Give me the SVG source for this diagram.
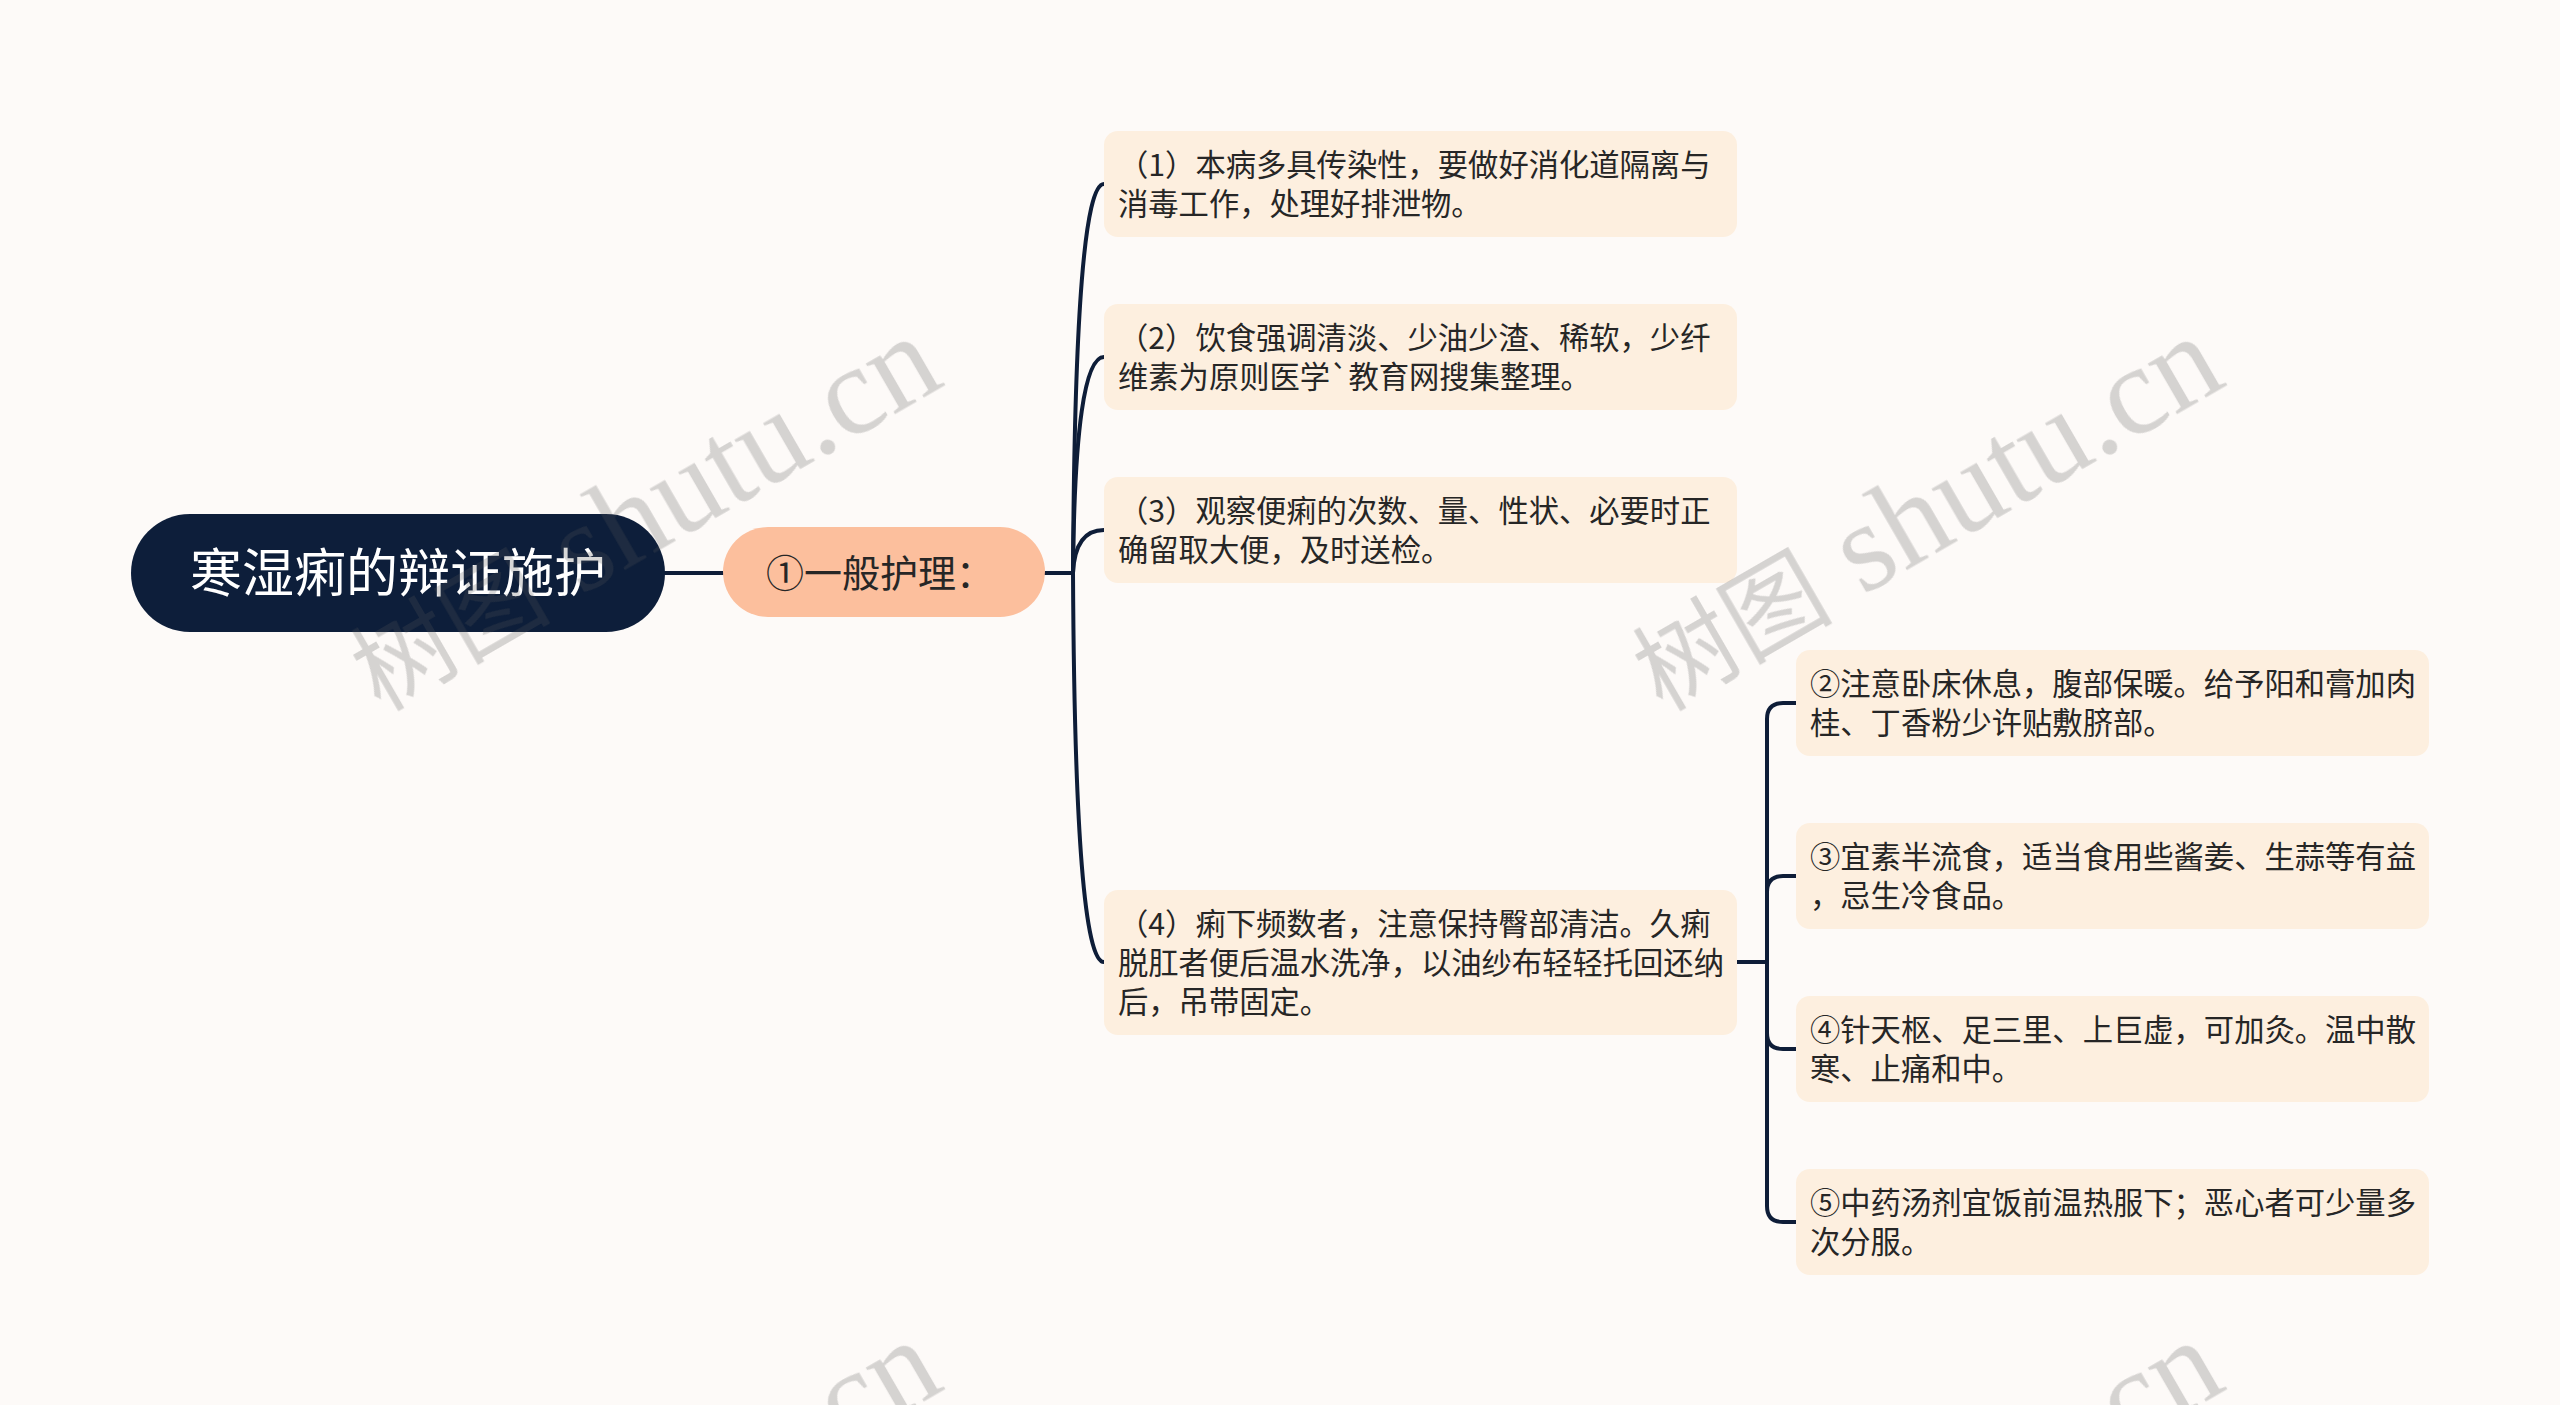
<svg xmlns="http://www.w3.org/2000/svg" width="2560" height="1405" viewBox="0 0 2560 1405">
<style>
.bg{fill:#fdfaf8}
.leaf{fill:#fdefdf}
.t{font-family:"Noto Sans CJK SC","Noto Sans",sans-serif;font-size:30.3px;fill:#262626}
.conn{fill:none;stroke:#0e1d38;stroke-width:4;stroke-linecap:round}
.wm{fill:#5a5a5a;opacity:0.24}
.wmc{font-family:"Noto Sans CJK SC",sans-serif;font-size:100px}
.wml{font-family:"Liberation Serif","DejaVu Serif",serif;font-size:126px}
</style>
<rect class="bg" x="0" y="0" width="2560" height="1405"/>
<g id="connectors">
<path class="conn" d="M665 573 H723"/>
<path class="conn" d="M1045 573 H1073"/>
<path class="conn" d="M1073 573 Q1075 184 1104 184"/>
<path class="conn" d="M1073 573 Q1075 357 1104 357"/>
<path class="conn" d="M1073 573 Q1075 530 1104 530"/>
<path class="conn" d="M1073 573 Q1075 962 1104 962"/>
<path class="conn" d="M1737 962 H1767"/>
<path class="conn" d="M1767 962 V719 Q1767 703 1783 703 H1796"/>
<path class="conn" d="M1767 962 V892 Q1767 876 1783 876 H1796"/>
<path class="conn" d="M1767 962 V1033 Q1767 1049 1783 1049 H1796"/>
<path class="conn" d="M1767 962 V1206 Q1767 1222 1783 1222 H1796"/>
</g>
<g id="root">
<rect x="131" y="514" width="534" height="118" rx="59" fill="#0d1e3a"/>
<text x="398" y="592" text-anchor="middle" font-family="Noto Sans CJK SC, sans-serif" font-size="52" fill="#ffffff">寒湿痢的辩证施护</text>
</g>
<g id="n1">
<rect x="723" y="527" width="322" height="90" rx="45" fill="#fcbf9d"/>
<text x="766" y="587" font-family="Noto Sans CJK SC, sans-serif" font-size="38" fill="#262626">①一般护理：</text>
</g>
<g id="c1">
<rect class="leaf" x="1104" y="131" width="633" height="106" rx="14"/>
<text class="t" x="1118" y="176">（1）本病多具传染性，要做好消化道隔离与</text>
<text class="t" x="1118" y="215">消毒工作，处理好排泄物。</text>
</g>
<g id="c2">
<rect class="leaf" x="1104" y="304" width="633" height="106" rx="14"/>
<text class="t" x="1118" y="349">（2）饮食强调清淡、少油少渣、稀软，少纤</text>
<text class="t" x="1118" y="388">维素为原则医学`教育网搜集整理。</text>
</g>
<g id="c3">
<rect class="leaf" x="1104" y="477" width="633" height="106" rx="14"/>
<text class="t" x="1118" y="522">（3）观察便痢的次数、量、性状、必要时正</text>
<text class="t" x="1118" y="561">确留取大便，及时送检。</text>
</g>
<g id="c4">
<rect class="leaf" x="1104" y="890" width="633" height="145" rx="14"/>
<text class="t" x="1118" y="935">（4）痢下频数者，注意保持臀部清洁。久痢</text>
<text class="t" x="1118" y="974">脱肛者便后温水洗净，以油纱布轻轻托回还纳</text>
<text class="t" x="1118" y="1013">后，吊带固定。</text>
</g>
<g id="d1">
<rect class="leaf" x="1796" y="650" width="633" height="106" rx="14"/>
<text class="t" x="1810" y="695">②注意卧床休息，腹部保暖。给予阳和膏加肉</text>
<text class="t" x="1810" y="734">桂、丁香粉少许贴敷脐部。</text>
</g>
<g id="d2">
<rect class="leaf" x="1796" y="823" width="633" height="106" rx="14"/>
<text class="t" x="1810" y="868">③宜素半流食，适当食用些酱姜、生蒜等有益</text>
<text class="t" x="1810" y="907">，忌生冷食品。</text>
</g>
<g id="d3">
<rect class="leaf" x="1796" y="996" width="633" height="106" rx="14"/>
<text class="t" x="1810" y="1041">④针天枢、足三里、上巨虚，可加灸。温中散</text>
<text class="t" x="1810" y="1080">寒、止痛和中。</text>
</g>
<g id="d4">
<rect class="leaf" x="1796" y="1169" width="633" height="106" rx="14"/>
<text class="t" x="1810" y="1214">⑤中药汤剂宜饭前温热服下；恶心者可少量多</text>
<text class="t" x="1810" y="1253">次分服。</text>
</g>
<g id="watermarks" class="wm">
<text transform="translate(380,712) rotate(-30)"><tspan class="wmc">树图</tspan><tspan class="wml"> shutu.cn</tspan></text>
<text transform="translate(1662,712) rotate(-30)"><tspan class="wmc">树图</tspan><tspan class="wml"> shutu.cn</tspan></text>
<text transform="translate(380,1716) rotate(-30)"><tspan class="wmc">树图</tspan><tspan class="wml"> shutu.cn</tspan></text>
<text transform="translate(1662,1716) rotate(-30)"><tspan class="wmc">树图</tspan><tspan class="wml"> shutu.cn</tspan></text>
</g>
</svg>
